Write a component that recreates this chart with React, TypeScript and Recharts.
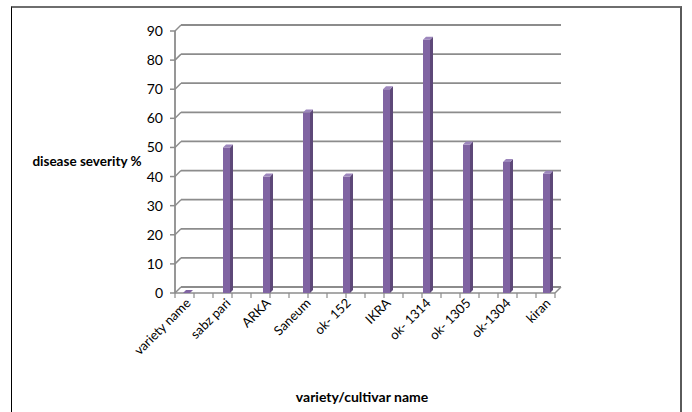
import React from 'react';
import { BarChart, Bar, XAxis, YAxis, CartesianGrid } from 'recharts';

const categories = ['variety name', 'sabz pari', 'ARKA', 'Saneum', 'ok- 152', 'IKRA', 'ok- 1314', 'ok- 1305', 'ok-1304', 'kiran'];
const severity = [0, 50, 40, 62, 40, 70, 87, 51, 45, 41];
const yTicks = [0, 10, 20, 30, 40, 50, 60, 70, 80, 90];

const data = categories.map((name, i) => ({ name, severity: severity[i] }));

const FONT = 'Lato, "Open Sans", sans-serif';
const GRID = '#8c8c8c';
const DX = 6;
const DY = 6;
const SHIFT = -8.5;

const Bar3D = (props: any) => {
  const { x, y, width, height } = props;
  const cx = x + width / 2 + SHIFT;
  const w = 7;
  const xl = cx - w / 2;
  const xr = cx + w / 2;
  const d = 3;
  const h = Math.max(0, height);
  return (
    <g>
      {h > 0 && <rect x={xl} y={y} width={w} height={h} fill="#8064A2" />}
      {h > 0 && (
        <polygon points={`${xr},${y} ${xr + d},${y - d} ${xr + d},${y + h - d} ${xr},${y + h}`} fill="#5D4878" />
      )}
      <polygon points={`${xl},${y} ${xl + d},${y - d} ${xr + d},${y - d} ${xr},${y}`} fill={h > 0 ? '#9C86BC' : '#8064A2'} />
    </g>
  );
};

const gridLine = (props: any) => {
  const { x1, y1, x2, key } = props;
  const xe = x2 - 20;
  const isZero = Math.abs(y1 - 293) < 2;
  const ticks: number[] = [];
  if (isZero) {
    for (let t = x1; t <= xe + 0.5; t += 19) ticks.push(t);
  }
  return (
    <g key={key}>
      <line x1={x1 - 5} y1={y1} x2={x1} y2={y1} stroke={GRID} strokeWidth={1.5} />
      <line x1={x1} y1={y1} x2={x1 + DX} y2={y1 - DY} stroke={GRID} strokeWidth={1.5} />
      <line x1={x1 + DX} y1={y1 - DY} x2={xe + DX} y2={y1 - DY} stroke={GRID} strokeWidth={1.8} />
      {isZero && (
        <g>
          <line x1={x1} y1={y1} x2={xe} y2={y1} stroke={GRID} strokeWidth={1.5} />
          <line x1={xe} y1={y1} x2={xe + DX} y2={y1 - DY} stroke={GRID} strokeWidth={1.5} />
          {ticks.map((t) => (
            <line key={t} x1={t} y1={y1} x2={t} y2={y1 + 5} stroke={GRID} strokeWidth={1.2} />
          ))}
        </g>
      )}
    </g>
  );
};

const XTick = (props: any) => {
  const { x, payload } = props;
  const ax = x + SHIFT + 5;
  const ay = 304;
  return (
    <text x={ax} y={ay} transform={`rotate(-45, ${ax}, ${ay})`} textAnchor="end" fontSize={13} fontFamily={FONT} fill="#000">
      {payload.value}
    </text>
  );
};

export default function App() {
  return (
    <div style={{ position: 'absolute', left: 0, top: 0, width: 692, height: 412, background: '#fff', overflow: 'hidden' }}>
      <div
        style={{
          position: 'absolute',
          left: 11,
          top: 6,
          width: 671,
          height: 430,
          borderLeft: '1.5px solid #000',
          borderTop: '2px solid #6e6e6e',
          borderRight: '2px solid #5a5a5a',
          boxSizing: 'border-box',
        }}
      />
      <div style={{ position: 'absolute', left: 0, top: 0 }}>
        <BarChart width={692} height={412} data={data} margin={{ top: 31, right: 117, left: 115, bottom: 0 }} barCategoryGap={0}>
          <CartesianGrid vertical={false} horizontal={gridLine as any} />
          <XAxis
            dataKey="name"
            interval={0}
            axisLine={false}
            tickLine={false}
            height={119}
            tick={<XTick />}
            label={{
              content: () => (
                <text x={362} y={402} textAnchor="middle" fontSize={14} fontWeight="bold" fontFamily={FONT} fill="#000">
                  variety/cultivar name
                </text>
              ),
            }}
          />
          <YAxis
            width={60}
            domain={[0, 90]}
            ticks={yTicks}
            interval={0}
            axisLine={{ stroke: GRID, strokeWidth: 1.8 }}
            tickLine={false}
            tickSize={5}
            tickMargin={7}
            tick={{ fontSize: 14, fontFamily: FONT, fill: '#000' }}
            label={{
              content: () => (
                <text x={87} y={166} textAnchor="middle" fontSize={13.5} fontWeight="bold" fontFamily={FONT} fill="#000">
                  disease severity %
                </text>
              ),
            }}
          />
          <Bar dataKey="severity" isAnimationActive={false} shape={Bar3D} minPointSize={0} />
        </BarChart>
      </div>
    </div>
  );
}
